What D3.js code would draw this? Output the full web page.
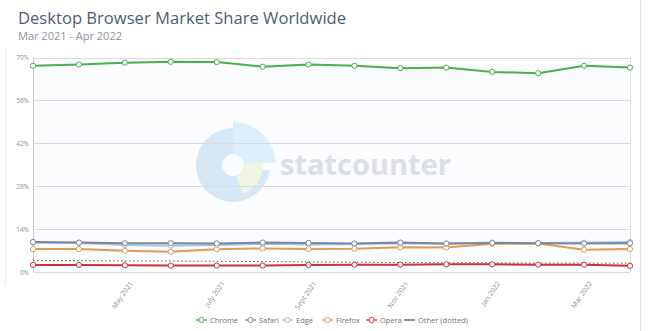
<!DOCTYPE html>
<html><head><meta charset="utf-8">
<script src="https://cdn.jsdelivr.net/npm/d3@7"></script>
<style>
body{margin:0;background:#fff;font-family:"Open Sans",sans-serif;}
</style></head>
<body><svg id="c" width="650" height="331"></svg>
<script>
const months = ["Mar 2021","Apr 2021","May 2021","June 2021","July 2021","Aug 2021","Sept 2021","Oct 2021","Nov 2021","Dec 2021","Jan 2022","Feb 2022","Mar 2022","Apr 2022"];
const xTickLabels = ["May 2021","July 2021","Sept 2021","Nov 2021","Jan 2022","Mar 2022"];
const yTicks = [0,14,28,42,56,70];
const chrome  = [67.3,67.7,68.3,68.6,68.5,67.0,67.7,67.3,66.5,66.7,65.3,64.9,67.3,66.7];
const safari  = [9.8,9.6,9.4,9.4,9.3,9.6,9.5,9.3,9.6,9.3,9.5,9.4,9.3,9.4];
const edge    = [9.6,9.5,8.8,8.6,8.8,9.2,9.0,9.1,9.3,9.2,9.6,9.5,9.6,9.8];
const firefox = [7.5,7.5,6.9,6.6,7.4,7.7,7.5,7.6,8.1,8.0,9.2,9.3,7.3,7.5];
const opera   = [2.3,2.3,2.2,2.1,2.1,2.1,2.3,2.4,2.4,2.5,2.5,2.4,2.4,2.0];
const other   = [3.7,3.7,3.6,3.6,3.5,3.4,3.3,3.2,3.1,3.0,3.0,2.9,2.9,2.9];

const series = [
  {name:"Other (dotted)", values:other, color:"#555", dotted:true},
  {name:"Opera", values:opera, color:"#cc3333"},
  {name:"Firefox", values:firefox, color:"#e49a55"},
  {name:"Edge", values:edge, color:"#a9c3de"},
  {name:"Safari", values:safari, color:"#7c8698"},
  {name:"Chrome", values:chrome, color:"#4cae4c"}
];
const legendOrder = ["Chrome","Safari","Edge","Firefox","Opera","Other (dotted)"];

const svg = d3.select("#c");
svg.append("rect").attr("x",0).attr("y",0).attr("width",650).attr("height",331).attr("fill","#fff");
svg.append("line").attr("x1",5.5).attr("x2",5.5).attr("y1",48).attr("y2",285).attr("stroke","#eceef2");
svg.append("line").attr("x1",640.5).attr("x2",640.5).attr("y1",0).attr("y2",331).attr("stroke","#e6e8ec");

svg.append("text").attr("x",18).attr("y",24).attr("font-size",16.6).attr("fill","#4a5e78")
  .attr("font-family","Open Sans").text("Desktop Browser Market Share Worldwide");
svg.append("text").attr("x",18).attr("y",40).attr("font-size",11).attr("fill","#8a94a3")
  .attr("font-family","Open Sans").text("Mar 2021 - Apr 2022");

const L=33, R=630, T=57.5, B=272;
const x = d3.scalePoint().domain(months).range([L,R]);
const y = d3.scaleLinear().domain([0,70]).range([B,T]);

svg.append("rect").attr("x",L).attr("y",T).attr("width",R-L).attr("height",B-T).attr("fill","#fbfcfe");

// watermark
const wm = svg.append("g").attr("opacity",0.55);
const arc = d3.arc();
const cx=233, cy=165;
wm.append("path").attr("transform",`translate(${cx},${cy})`)
  .attr("d",arc({innerRadius:11,outerRadius:37,startAngle:Math.PI*0.55,endAngle:Math.PI*2}))
  .attr("fill","#b9d8f0");
wm.append("path").attr("transform",`translate(${cx},${cy})`)
  .attr("d",arc({innerRadius:11,outerRadius:43,startAngle:0,endAngle:Math.PI*0.48}))
  .attr("fill","#c4e6f7");
wm.append("path").attr("transform",`translate(${cx},${cy})`)
  .attr("d",arc({innerRadius:11,outerRadius:30,startAngle:Math.PI*0.48,endAngle:Math.PI*0.9}))
  .attr("fill","#e5f0c8");
wm.append("text").attr("x",280).attr("y",175).attr("font-size",29).attr("font-weight","bold")
  .attr("font-family","Open Sans").attr("fill","#c3c8cf").text("statcounter");

// grid
svg.append("g").selectAll("line").data(yTicks).join("line")
  .attr("x1",L).attr("x2",R).attr("y1",d=>Math.round(y(d))+0.5).attr("y2",d=>Math.round(y(d))+0.5)
  .attr("stroke","#d8dbe0").attr("stroke-width",1);
svg.append("line").attr("x1",L+0.5).attr("x2",L+0.5).attr("y1",T).attr("y2",B).attr("stroke","#c9cdd3");
svg.append("line").attr("x1",R+0.5).attr("x2",R+0.5).attr("y1",T).attr("y2",B).attr("stroke","#d8dbe0");

const yAxis = d3.axisLeft(y).tickValues(yTicks).tickFormat(d=>d+"%").tickSize(0).tickPadding(4);
const ya = svg.append("g").attr("transform",`translate(${L},0)`).call(yAxis);
ya.select(".domain").remove();
ya.selectAll("text").attr("font-size",6.5).attr("fill","#8a919b").attr("font-family","Open Sans");

const xAxis = d3.axisBottom(x).tickValues(xTickLabels).tickSize(0).tickPadding(6);
const xa = svg.append("g").attr("transform",`translate(0,${B})`).call(xAxis);
xa.select(".domain").remove();
xa.selectAll("text").attr("font-size",7).attr("fill","#8a919b").attr("font-family","Open Sans")
  .attr("text-anchor","end").attr("dy",0).attr("dx",0)
  .attr("transform","translate(3,8) rotate(-55)");

const line = d3.line().x((d,i)=>x(months[i])).y(d=>y(d));
series.forEach(s=>{
  svg.append("path").datum(s.values).attr("d",line).attr("fill","none")
    .attr("stroke",s.color).attr("stroke-width",s.dotted?1:2)
    .attr("stroke-dasharray",s.dotted?"1.5,2.5":null);
  if(!s.dotted){
    svg.append("g").selectAll("circle").data(s.values).join("circle")
      .attr("cx",(d,i)=>x(months[i])).attr("cy",d=>y(d)).attr("r",2.6)
      .attr("fill","#fff").attr("stroke",s.color).attr("stroke-width",1);
  }
});

const legX = {"Chrome":196,"Safari":245,"Edge":282,"Firefox":322,"Opera":366,"Other (dotted)":404};
const lg = svg.append("g");
legendOrder.forEach(n=>{
  const s = series.find(d=>d.name===n);
  const g = lg.append("g").attr("transform",`translate(${legX[n]},320)`);
  if(s.dotted){
    g.append("line").attr("x1",0).attr("x2",11).attr("y1",0).attr("y2",0).attr("stroke","#555").attr("stroke-width",1.3);
  } else {
    g.append("line").attr("x1",0).attr("x2",11).attr("y1",0).attr("y2",0).attr("stroke",s.color).attr("stroke-width",1.3);
    g.append("circle").attr("cx",5.5).attr("cy",0).attr("r",2.6).attr("fill","#fff").attr("stroke",s.color).attr("stroke-width",1);
  }
  g.append("text").attr("x",14).attr("y",2.7).attr("font-size",7.5).attr("fill","#6b7380")
    .attr("font-family","Open Sans").text(n);
});
</script></body></html>
